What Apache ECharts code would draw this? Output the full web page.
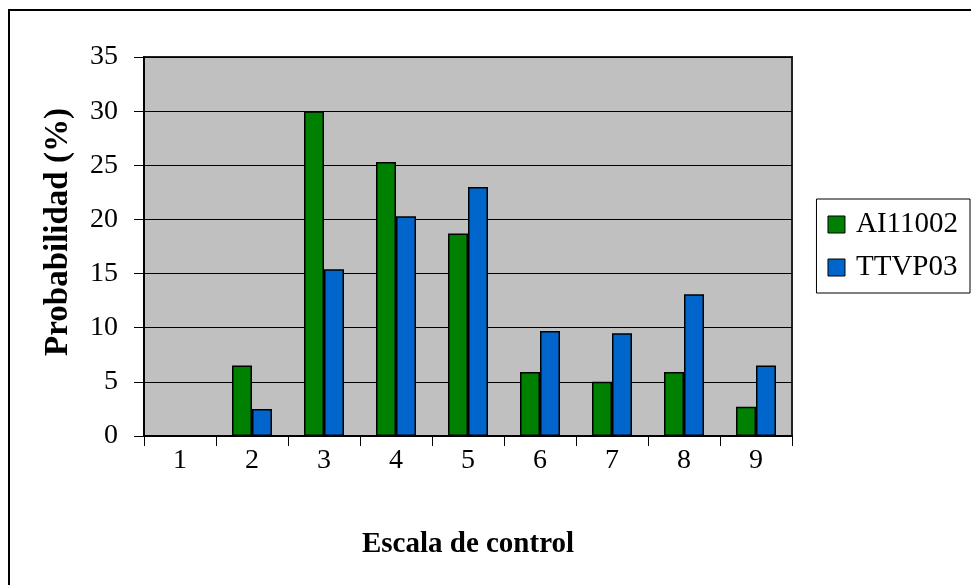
<!DOCTYPE html>
<html>
<head>
<meta charset="utf-8">
<script src="https://cdn.jsdelivr.net/npm/echarts@6/dist/echarts.min.js"></script>
<style>
  html, body { margin: 0; padding: 0; background: #fff; }
  #chart { width: 971px; height: 585px; }
</style>
</head>
<body>
<div id="chart"></div>
<script>
// Control scale levels and probability (%) per variety
const categories = ['1', '2', '3', '4', '5', '6', '7', '8', '9'];
const seriesAI11002 = [0, 6.5, 30.0, 25.3, 18.7, 5.9, 5.0, 5.9, 2.7];
const seriesTTVP03 = [0, 2.5, 15.4, 20.3, 23.0, 9.7, 9.5, 13.1, 6.5];
const yTicks = { min: 0, max: 35, interval: 5 };
const yTitle = 'Probabilidad (%)';
const xTitle = 'Escala de control';

const FONT = '"Liberation Serif", "Times New Roman", serif';

const chart = echarts.init(document.getElementById('chart'), null, { renderer: 'canvas' });

const barStyle = (color) => ({
  color: color,
  borderColor: '#000',
  borderWidth: 1.5
});

chart.setOption({
  animation: false,
  backgroundColor: '#fff',
  textStyle: { fontFamily: FONT },
  graphic: [
    {
      // outer frame (top and left edges)
      type: 'polyline',
      shape: { points: [[9, 585], [9, 10], [971, 10]] },
      style: { stroke: '#000', lineWidth: 2, fill: null },
      silent: true
    },
    {
      // vertical value-axis title
      type: 'text',
      x: 58, y: 232,
      rotation: Math.PI / 2,
      style: {
        text: yTitle,
        fontFamily: FONT, fontSize: 33, fontWeight: 'bold', fill: '#000',
        align: 'center', verticalAlign: 'middle'
      },
      silent: true
    }
  ],
  grid: {
    left: 144, top: 57, right: 179, bottom: 149,
    show: true,
    backgroundColor: '#c0c0c0',
    borderColor: '#222',
    borderWidth: 2
  },
  legend: {
    right: 1, top: 199,
    orient: 'vertical',
    itemWidth: 17, itemHeight: 17,
    itemGap: 14,
    padding: [11, 12, 11, 11],
    borderColor: '#000', borderWidth: 1,
    textStyle: { fontFamily: FONT, fontSize: 29, color: '#000', padding: [0, 0, 0, 6] },
    data: [
      { name: 'AI11002', icon: 'rect', itemStyle: { borderColor: '#000', borderWidth: 1 } },
      { name: 'TTVP03', icon: 'rect', itemStyle: { borderColor: '#000', borderWidth: 1 } }
    ]
  },
  xAxis: {
    type: 'category',
    data: categories,
    name: xTitle,
    nameLocation: 'middle',
    nameGap: 94,
    nameTextStyle: { fontFamily: FONT, fontSize: 29, fontWeight: 'bold', color: '#000' },
    axisLine: { lineStyle: { color: '#000', width: 2 } },
    axisTick: { show: true, interval: 0, length: 10, lineStyle: { color: '#000', width: 1 } },
    axisLabel: { fontFamily: FONT, fontSize: 28, color: '#000', margin: 11 },
    splitLine: { show: false }
  },
  yAxis: {
    type: 'value',
    min: yTicks.min, max: yTicks.max, interval: yTicks.interval,
    axisLine: { show: true, lineStyle: { color: '#000', width: 2 } },
    axisTick: { show: true, length: 10, lineStyle: { color: '#000', width: 1 } },
    axisLabel: { fontFamily: FONT, fontSize: 28, color: '#000', margin: 26 },
    splitLine: { show: true, lineStyle: { color: '#000', width: 1 } }
  },
  series: [
    {
      name: 'AI11002', type: 'bar', data: seriesAI11002,
      barWidth: 20, barGap: '0%',
      itemStyle: barStyle('#008000')
    },
    {
      name: 'TTVP03', type: 'bar', data: seriesTTVP03,
      barWidth: 20, barGap: '0%',
      itemStyle: barStyle('#0066cc')
    }
  ]
});
</script>
</body>
</html>
